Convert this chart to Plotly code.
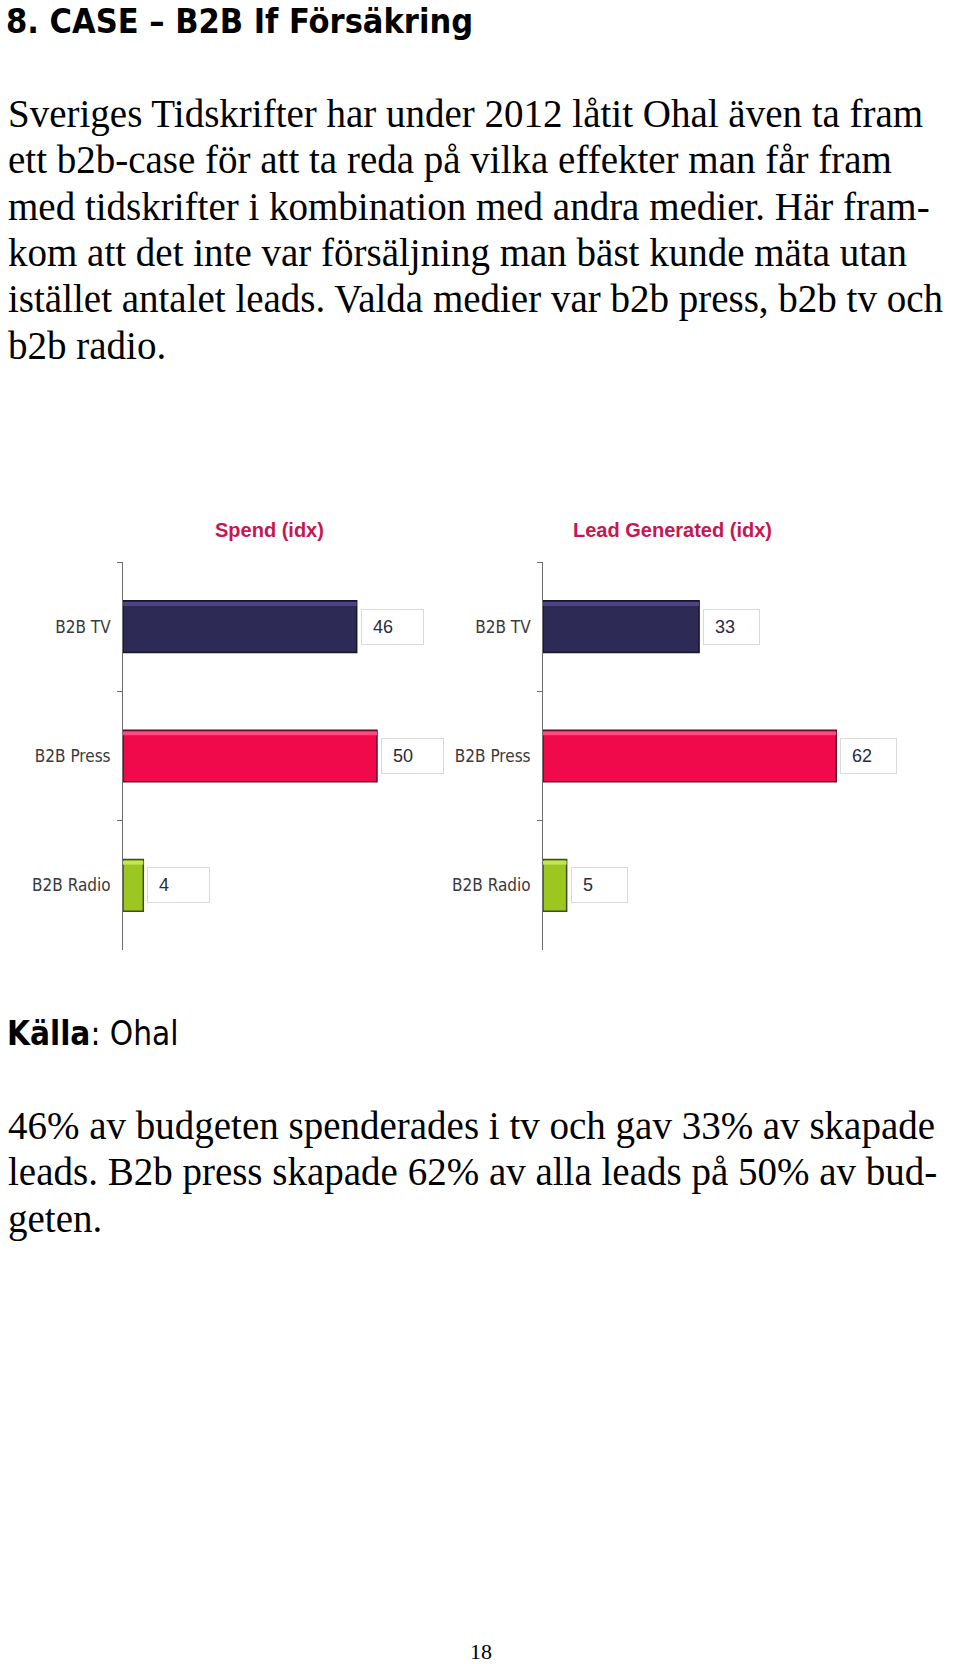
import plotly.graph_objects as go

W, H = 960, 1664

# ---------------- data ----------------
categories = ["B2B TV", "B2B Press", "B2B Radio"]
spend_idx = [46, 50, 4]
leads_idx = [33, 62, 5]
panel_titles = ["Spend (idx)", "Lead Generated (idx)"]

heading = "8. CASE \u2013 B2B If Försäkring"
intro_lines = [
    "Sveriges Tidskrifter har under 2012 låtit Ohal även ta fram",
    "ett b2b-case för att ta reda på vilka effekter man får fram",
    "med tidskrifter i kombination med andra medier. Här fram-",
    "kom att det inte var försäljning man bäst kunde mäta utan",
    "istället antalet leads. Valda medier var b2b press, b2b tv och",
    "b2b radio.",
]
source_label = "Källa"
source_value = "Ohal"
outro_lines = [
    "46% av budgeten spenderades i tv och gav 33% av skapade",
    "leads. B2b press skapade 62% av alla leads på 50% av bud-",
    "geten.",
]
page_number = "18"

# ---------------- styles ----------------
bar_colors = ["#2E2A56", "#F0094B", "#9BC720"]
bar_lines = ["#17142F", "#5E0D2A", "#3C500E"]
highlight = ["#4A4682", "#FF4A7D", "#C4E25A"]
title_color = "#C8164F"
COND = "DejaVu Sans Condensed, Liberation Sans, Arial"
SANS = "Liberation Sans, Arial"
SERIF = "Liberation Serif, Times New Roman, serif"


def py(px):
    return 1 - px / H


fig = go.Figure()

panels = [
    dict(vals=spend_idx, xa="x", ya="y", rng=[0, 65], dom=[123 / W, (123 + 65 * 5.08) / W], box_w=63),
    dict(vals=leads_idx, xa="x2", ya="y2", rng=[0, 80], dom=[543 / W, (543 + 80 * 4.73) / W], box_w=57),
]

ydom = [py(950), py(562)]
annotations = []

for p in panels:
    fig.add_trace(go.Bar(
        x=p["vals"], y=categories, orientation="h",
        xaxis=p["xa"], yaxis=p["ya"], width=0.4,
        marker=dict(color=bar_colors, line=dict(color=bar_lines, width=1.5)),
        hoverinfo="skip", showlegend=False,
    ))
    # thin bevel highlight along top of each bar
    fig.add_trace(go.Bar(
        x=p["vals"], y=categories, orientation="h",
        xaxis=p["xa"], yaxis=p["ya"], width=0.03, offset=-0.19,
        marker=dict(color=highlight, line=dict(width=0)),
        hoverinfo="skip", showlegend=False,
    ))
    for c, v in zip(categories, p["vals"]):
        annotations.append(dict(
            x=v, y=c, xref=p["xa"], yref=p["ya"], xanchor="left", yanchor="middle",
            xshift=4, text="\u2002" + str(v), showarrow=False, align="left",
            width=p["box_w"] - 6, height=30, borderpad=2, borderwidth=1,
            bordercolor="#D9D9D9", bgcolor="#FFFFFF",
            font=dict(family=SANS, size=18, color="#2A2A40"),
        ))

axis_common = dict(showgrid=False, zeroline=False, visible=False, fixedrange=True)
yaxis_common = dict(
    type="category", categoryorder="array", categoryarray=categories,
    autorange="reversed", showline=True, linecolor="#6E6E6E", linewidth=1,
    ticks="outside", tickson="boundaries", ticklen=5, tickcolor="#6E6E6E",
    ticklabelstandoff=8, showgrid=False, zeroline=False, domain=ydom,
    tickfont=dict(family=COND, size=17, color="#3A3A3A"), fixedrange=True,
)

fig.update_layout(
    width=W, height=H, margin=dict(l=0, r=0, t=0, b=0),
    paper_bgcolor="#FFFFFF", plot_bgcolor="rgba(0,0,0,0)",
    barmode="overlay", showlegend=False,
    xaxis=dict(domain=panels[0]["dom"], range=panels[0]["rng"], anchor="y", **axis_common),
    xaxis2=dict(domain=panels[1]["dom"], range=panels[1]["rng"], anchor="y2", **axis_common),
    yaxis=dict(anchor="x", **yaxis_common),
    yaxis2=dict(anchor="x2", **yaxis_common),
)

# panel titles
for t, cx in zip(panel_titles, [269, 672]):
    annotations.append(dict(
        x=cx / W, y=py(530), xref="paper", yref="paper", xanchor="center", yanchor="middle",
        text="<b>" + t + "</b>", showarrow=False,
        font=dict(family=SANS, size=20, color=title_color),
    ))

# heading
annotations.append(dict(
    x=4 / W, y=py(21), xref="paper", yref="paper", xanchor="left", yanchor="middle",
    text="<b>" + heading + "</b>", showarrow=False,
    font=dict(family=COND, size=34, color="#000000"),
))

BODY = 39
for i, line in enumerate(intro_lines):
    base = 127 + 46.4 * i
    annotations.append(dict(
        x=6 / W, y=py(base - 0.3375 * BODY), xref="paper", yref="paper",
        xanchor="left", yanchor="middle", text=line, showarrow=False,
        font=dict(family=SERIF, size=BODY, color="#000000"),
    ))

annotations.append(dict(
    x=5 / W, y=py(1033), xref="paper", yref="paper",
    xanchor="left", yanchor="middle",
    text="<b>" + source_label + "</b>: " + source_value, showarrow=False,
    font=dict(family=COND, size=33, color="#000000"),
))

for i, line in enumerate(outro_lines):
    base = 1139 + 46.5 * i
    annotations.append(dict(
        x=6 / W, y=py(base - 0.3375 * BODY), xref="paper", yref="paper",
        xanchor="left", yanchor="middle", text=line, showarrow=False,
        font=dict(family=SERIF, size=BODY, color="#000000"),
    ))

annotations.append(dict(
    x=481 / W, y=py(1651), xref="paper", yref="paper", xanchor="center", yanchor="middle",
    text=page_number, showarrow=False,
    font=dict(family=SERIF, size=22, color="#000000"),
))

fig.update_layout(annotations=annotations)
fig.write_html("out.html", config={"displayModeBar": False},
               post_script="document.body.style.margin='0';")
